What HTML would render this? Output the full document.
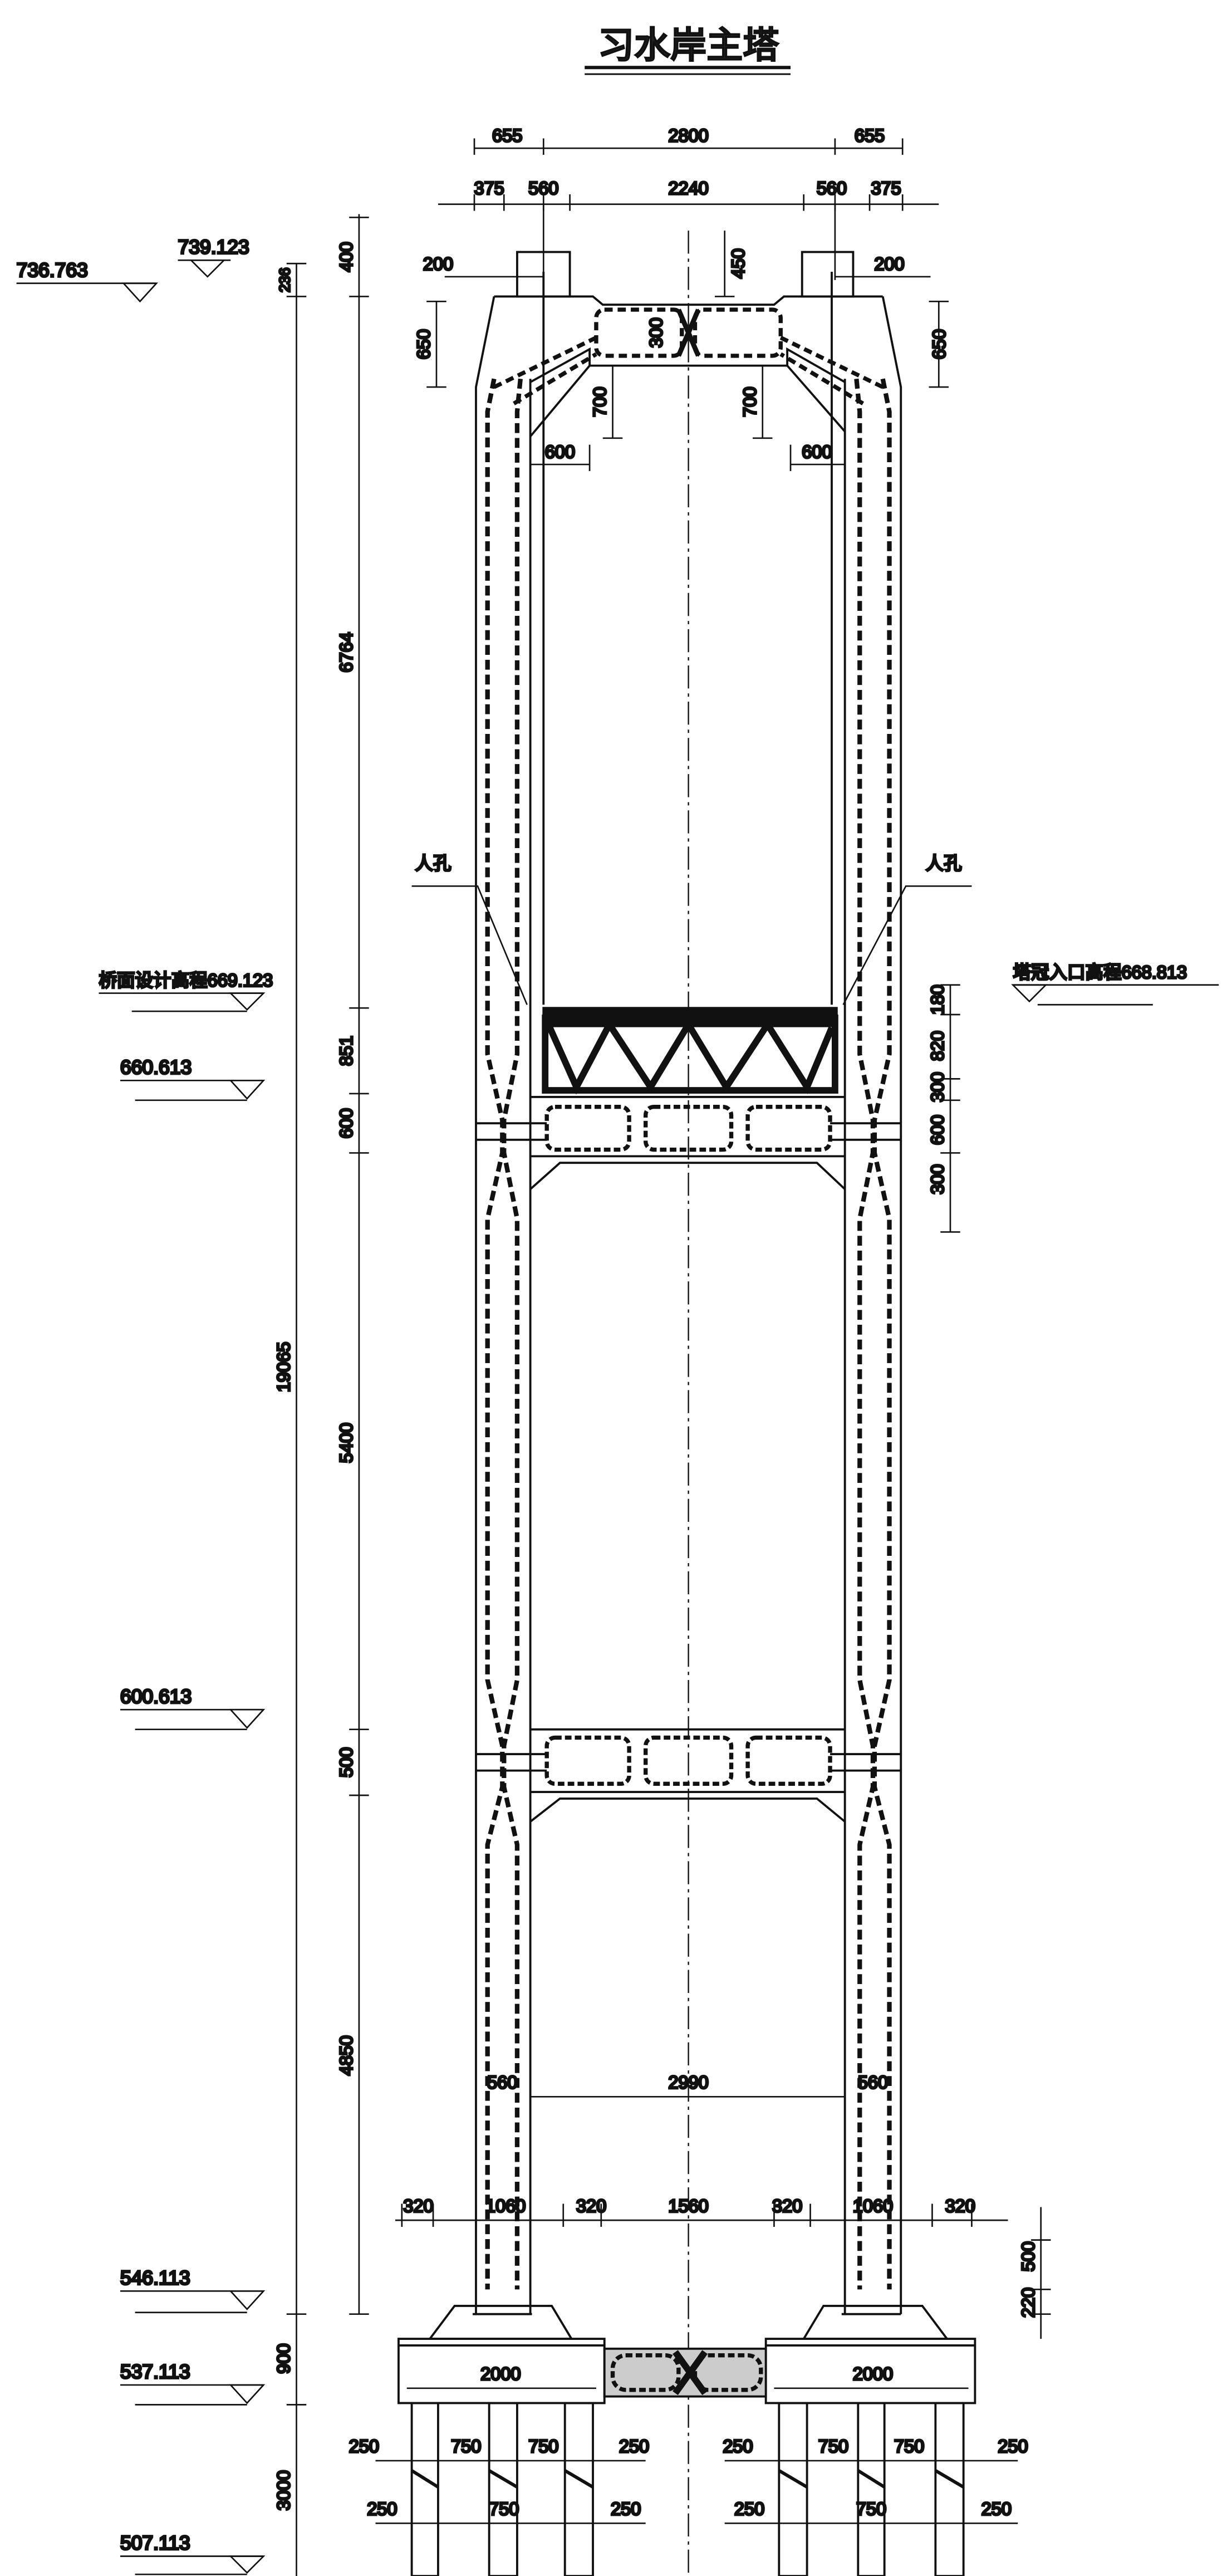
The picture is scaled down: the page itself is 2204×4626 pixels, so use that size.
<!DOCTYPE html>
<html><head><meta charset="utf-8"><style>
html,body{margin:0;padding:0;background:#fff}
svg{display:block}
text{font-family:"Liberation Sans","Noto Sans CJK SC",sans-serif;fill:#222}
</style></head><body>
<svg width="2204" height="4626" viewBox="0 0 745 1564" preserveAspectRatio="none" xmlns="http://www.w3.org/2000/svg">
<rect width="745" height="1564" fill="#fff"/>
<g stroke="#111" fill="none" stroke-width="1.3">
<line x1="355" y1="41" x2="480" y2="41" stroke-width="2"/><line x1="355" y1="45" x2="480" y2="45" stroke-width="1"/>
<line x1="418" y1="140" x2="418" y2="1562" stroke-width="0.8" stroke-dasharray="14 3 2 3"/>
<rect x="314" y="153" width="32" height="27"/><rect x="487" y="153" width="31" height="27"/>
<polyline points="300,180 360,180 366,185 470,185 476,180 536,180"/>
<polyline points="300,180 289,235 289,1405"/>
<polyline points="536,180 547,235 547,1405"/>
<line x1="322" y1="230" x2="322" y2="1405"/><line x1="513" y1="230" x2="513" y2="1405"/>
<line x1="330" y1="165" x2="330" y2="610"/><line x1="505" y1="165" x2="505" y2="610"/>
<polyline points="358,222 478,222 513,262"/><line x1="358" y1="222" x2="322" y2="265"/>
<polyline points="322,232 358,212 358,222"/><polyline points="513,232 478,212 478,222"/>
<g stroke-width="2.5" stroke-dasharray="5 3">
<rect x="362" y="188" width="52" height="28" rx="5"/><rect x="422" y="188" width="52" height="28" rx="5"/>
<line x1="300" y1="235" x2="362" y2="205"/><line x1="312" y1="245" x2="362" y2="215"/>
<line x1="536" y1="235" x2="474" y2="205"/><line x1="524" y1="245" x2="474" y2="215"/>
</g>
<path d="M412 188 L424 216 M424 188 L412 216" stroke-width="3"/>
<g stroke-width="2.8" stroke-dasharray="6 3">
<polyline points="300,230 296,250 296,640 305,680 305,700 296,740 296,1020 305,1060 305,1085 296,1120 296,1390"/>
<polyline points="316,230 314,250 314,640 306,680 306,700 314,740 314,1020 306,1060 306,1085 314,1120 314,1390"/>
<polyline points="536,230 540,250 540,640 531,680 531,700 540,740 540,1020 531,1060 531,1085 540,1120 540,1390"/>
<polyline points="520,230 522,250 522,640 530,680 530,700 522,740 522,1020 530,1060 530,1085 522,1120 522,1390"/>
</g>
<!-- truss -->
<rect x="330" y="612" width="178" height="11" fill="#111"/>
<g stroke-width="4">
<rect x="331" y="618" width="176" height="44"/>
<polyline points="333,622 350,660 370,622 395,660 418,622 441,660 466,622 490,660 505,624"/>
</g>
<line x1="322" y1="666" x2="513" y2="666"/><line x1="322" y1="702" x2="513" y2="702"/>
<polyline points="322,722 340,706 496,706 513,722"/>
<g stroke-width="2.5" stroke-dasharray="4 2">
<rect x="332" y="672" width="50" height="26" rx="5"/><rect x="392" y="672" width="52" height="26" rx="5"/><rect x="454" y="672" width="50" height="26" rx="5"/>
</g>
<line x1="289" y1="682" x2="332" y2="682"/><line x1="289" y1="692" x2="332" y2="692"/>
<line x1="504" y1="682" x2="547" y2="682"/><line x1="504" y1="692" x2="547" y2="692"/>
<line x1="322" y1="1050" x2="513" y2="1050"/><line x1="322" y1="1088" x2="513" y2="1088"/>
<polyline points="322,1106 340,1092 496,1092 513,1106"/>
<g stroke-width="2.5" stroke-dasharray="4 2">
<rect x="332" y="1055" width="50" height="28" rx="5"/><rect x="392" y="1055" width="52" height="28" rx="5"/><rect x="454" y="1055" width="50" height="28" rx="5"/>
</g>
<line x1="289" y1="1065" x2="332" y2="1065"/><line x1="289" y1="1075" x2="332" y2="1075"/>
<line x1="504" y1="1065" x2="547" y2="1065"/><line x1="504" y1="1075" x2="547" y2="1075"/>
<polygon points="276,1400 335,1400 347,1420 261,1420"/>
<polygon points="500,1400 560,1400 575,1420 488,1420"/>
<line x1="287" y1="1405" x2="323" y2="1405"/><line x1="511" y1="1405" x2="547" y2="1405"/>
<rect x="242" y="1420" width="125" height="39"/><rect x="465" y="1420" width="127" height="39"/>
<line x1="242" y1="1424" x2="367" y2="1424"/><line x1="465" y1="1424" x2="592" y2="1424"/>
<rect x="367" y="1426" width="98" height="29" fill="#ccc"/>
<g stroke-width="2.5" stroke-dasharray="4 2"><rect x="372" y="1430" width="40" height="21" rx="8"/><rect x="422" y="1430" width="40" height="21" rx="8"/></g>
<path d="M410 1428 L428 1453 M428 1428 L410 1453" stroke-width="4"/>
<g>
<rect x="250" y="1459" width="16" height="105"/><rect x="297" y="1459" width="17" height="105"/><rect x="343" y="1459" width="17" height="105"/>
<rect x="473" y="1459" width="17" height="105"/><rect x="521" y="1459" width="16" height="105"/><rect x="568" y="1459" width="17" height="105"/>
</g>
<g stroke-width="2"><path d="M250 1500 L266 1510 M297 1500 L314 1510 M343 1500 L360 1510 M473 1500 L490 1510 M521 1500 L537 1510 M568 1500 L585 1510"/></g>
<line x1="180" y1="160" x2="180" y2="1564" stroke-width="0.9"/>
<line x1="218" y1="130" x2="218" y2="1405" stroke-width="0.9"/>
<g stroke-width="0.9">
<path d="M174 160h12M174 180h12M174 1405h12M174 1460h12M212 132h12M212 180h12M212 612h12M212 664h12M212 700h12M212 1050h12M212 1090h12M212 1405h12"/>
<line x1="577" y1="598" x2="577" y2="748"/>
<path d="M571 598h12M571 616h12M571 655h12M571 668h12M571 700h12M571 748h12"/>
<line x1="632" y1="1340" x2="632" y2="1420"/><path d="M626 1360h12M626 1390h12M626 1405h12"/>
<line x1="288" y1="90" x2="548" y2="90"/><path d="M288 84v10M330 84v10M507 84v10M548 84v10"/>
<line x1="266" y1="124" x2="570" y2="124"/><path d="M288 118v10M306 118v10M330 118v10M346 118v10M488 118v10M507 118v10M528 118v10M548 118v10"/>
<line x1="330" y1="124" x2="330" y2="170"/><line x1="507" y1="124" x2="507" y2="170"/>
<line x1="270" y1="168" x2="330" y2="168"/><line x1="507" y1="168" x2="565" y2="168"/>
<line x1="440" y1="140" x2="440" y2="180"/><path d="M434 180h12"/>
<line x1="265" y1="183" x2="265" y2="235"/><path d="M259 183h12M259 235h12"/>
<line x1="570" y1="183" x2="570" y2="235"/><path d="M564 183h12M564 235h12"/>
<line x1="372" y1="222" x2="372" y2="266"/><path d="M366 266h12"/>
<line x1="463" y1="222" x2="463" y2="266"/><path d="M457 266h12"/>
<line x1="322" y1="282" x2="358" y2="282"/><line x1="358" y1="270" x2="358" y2="286"/>
<line x1="480" y1="282" x2="513" y2="282"/><line x1="480" y1="270" x2="480" y2="286"/>
<line x1="322" y1="1273" x2="513" y2="1273"/>
<line x1="240" y1="1348" x2="612" y2="1348"/>
<path d="M244 1338v14M263 1338v14M289 1338v14M322 1338v14M342 1338v14M365 1338v14M470 1338v14M492 1338v14M513 1338v14M547 1338v14M566 1338v14M590 1338v14"/>
<line x1="247" y1="1450" x2="362" y2="1450"/><line x1="470" y1="1450" x2="588" y2="1450"/>
<line x1="228" y1="1494" x2="392" y2="1494"/><line x1="440" y1="1494" x2="618" y2="1494"/>
<line x1="228" y1="1532" x2="392" y2="1532"/><line x1="440" y1="1532" x2="618" y2="1532"/>
<polyline points="250,538 290,538 320,610"/><polyline points="590,538 550,538 512,610"/>
<line x1="10" y1="172" x2="95" y2="172"/><polygon points="75,172 95,172 85,183"/>
<line x1="108" y1="158" x2="140" y2="158"/><polygon points="116,158 136,158 126,168"/>
<line x1="60" y1="603" x2="160" y2="603"/><polygon points="140,603 160,603 150,613"/><line x1="80" y1="614" x2="150" y2="614"/>
<line x1="73" y1="656" x2="160" y2="656"/><polygon points="140,656 160,656 150,667"/><line x1="82" y1="668" x2="150" y2="668"/>
<line x1="73" y1="1038" x2="160" y2="1038"/><polygon points="140,1038 160,1038 150,1049"/><line x1="82" y1="1050" x2="150" y2="1050"/>
<line x1="73" y1="1391" x2="160" y2="1391"/><polygon points="140,1391 160,1391 150,1402"/><line x1="82" y1="1404" x2="150" y2="1404"/>
<line x1="73" y1="1448" x2="160" y2="1448"/><polygon points="140,1448 160,1448 150,1459"/><line x1="82" y1="1460" x2="150" y2="1460"/>
<line x1="73" y1="1552" x2="160" y2="1552"/><polygon points="140,1552 160,1552 150,1562"/><line x1="82" y1="1563" x2="150" y2="1563"/>
<line x1="615" y1="598" x2="740" y2="598"/><polygon points="615,598 635,598 625,608"/><line x1="630" y1="610" x2="700" y2="610"/>
</g>
<g font-size="11">
<text x="418" y="35" font-size="22" text-anchor="middle">习水岸主塔</text>
<text x="308" y="86" text-anchor="middle">655</text><text x="418" y="86" text-anchor="middle">2800</text><text x="528" y="86" text-anchor="middle">655</text>
<text x="297" y="118" text-anchor="middle">375</text><text x="330" y="118" text-anchor="middle">560</text><text x="418" y="118" text-anchor="middle">2240</text><text x="505" y="118" text-anchor="middle">560</text><text x="538" y="118" text-anchor="middle">375</text>
<text x="266" y="164" text-anchor="middle">200</text><text x="540" y="164" text-anchor="middle">200</text>
<text x="10" y="168" font-size="12">736.763</text><text x="108" y="154" font-size="12">739.123</text>
<text x="60" y="599" font-size="11">桥面设计高程669.123</text>
<text x="615" y="594" font-size="11">塔冠入口高程668.813</text>
<text x="73" y="652" font-size="12">660.613</text><text x="73" y="1034" font-size="12">600.613</text>
<text x="73" y="1387" font-size="12">546.113</text><text x="73" y="1444" font-size="12">537.113</text><text x="73" y="1548" font-size="12">507.113</text>
<text x="252" y="528">人孔</text><text x="562" y="528">人孔</text>
<g text-anchor="middle">
<text transform="translate(176,170) rotate(-90)" font-size="9">236</text>
<text transform="translate(214,156) rotate(-90)">400</text>
<text transform="translate(214,396) rotate(-90)">6764</text>
<text transform="translate(214,638) rotate(-90)">851</text>
<text transform="translate(214,682) rotate(-90)">600</text>
<text transform="translate(214,876) rotate(-90)">5400</text>
<text transform="translate(214,1070) rotate(-90)">500</text>
<text transform="translate(214,1248) rotate(-90)">4850</text>
<text transform="translate(176,830) rotate(-90)">19065</text>
<text transform="translate(176,1432) rotate(-90)">900</text>
<text transform="translate(176,1512) rotate(-90)">3000</text>
<text transform="translate(261,209) rotate(-90)">650</text>
<text transform="translate(574,209) rotate(-90)">650</text>
<text transform="translate(452,160) rotate(-90)">450</text>
<text transform="translate(402,202) rotate(-90)">300</text>
<text transform="translate(368,244) rotate(-90)">700</text>
<text transform="translate(459,244) rotate(-90)">700</text>
<text transform="translate(573,607) rotate(-90)">180</text>
<text transform="translate(573,635) rotate(-90)">820</text>
<text transform="translate(573,660) rotate(-90)">300</text>
<text transform="translate(573,686) rotate(-90)">600</text>
<text transform="translate(573,716) rotate(-90)">300</text>
<text transform="translate(628,1370) rotate(-90)">500</text>
<text transform="translate(628,1398) rotate(-90)">220</text>
<text x="340" y="278">600</text><text x="496" y="278">600</text>
<text x="418" y="1268">2990</text><text x="305" y="1268">560</text><text x="530" y="1268">560</text>
<text x="254" y="1343">320</text><text x="307" y="1343">1060</text><text x="359" y="1343">320</text><text x="418" y="1343">1560</text><text x="478" y="1343">320</text><text x="530" y="1343">1060</text><text x="583" y="1343">320</text>
<text x="304" y="1445">2000</text><text x="530" y="1445">2000</text>
<text x="221" y="1489">250</text><text x="283" y="1489">750</text><text x="330" y="1489">750</text><text x="385" y="1489">250</text>
<text x="448" y="1489">250</text><text x="506" y="1489">750</text><text x="552" y="1489">750</text><text x="615" y="1489">250</text>
<text x="232" y="1527">250</text><text x="306" y="1527">750</text><text x="380" y="1527">250</text>
<text x="455" y="1527">250</text><text x="529" y="1527">750</text><text x="605" y="1527">250</text>
</g>
</g>
</svg>
</body></html>
